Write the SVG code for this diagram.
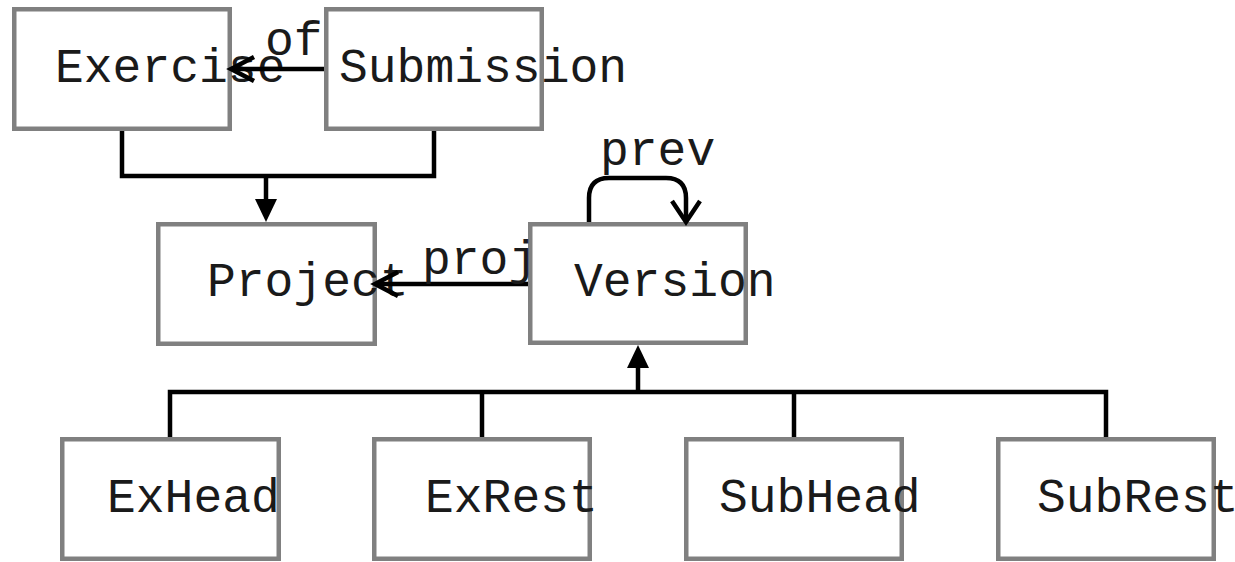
<svg xmlns="http://www.w3.org/2000/svg" width="1235" height="562" viewBox="0 0 1235 562">
  <style>
    .box { fill: #ffffff; stroke: #808080; stroke-width: 4.5; }
    .lbl { font-family: "Liberation Mono", "Courier New", monospace; font-size: 48px; fill: #1a1a1a; }
    .edge { fill: none; stroke: #000000; stroke-width: 4.5; }
    .open { fill: none; stroke: #000000; stroke-width: 4.5; stroke-linejoin: miter; }
    .solid { fill: #000000; stroke: none; }
  </style>
  <rect width="1235" height="562" fill="#ffffff"/>

  <g id="node-exercise">
    <rect class="box" x="14.25" y="9.25" width="215.5" height="119.5"/>
    <text class="lbl" x="55" y="82">Exercise</text>
  </g>
  <g id="node-submission">
    <rect class="box" x="326.25" y="9.25" width="215.5" height="119.5"/>
    <text class="lbl" x="339" y="82">Submission</text>
  </g>
  <g id="node-project">
    <rect class="box" x="158.25" y="224.25" width="216.5" height="119.5"/>
    <text class="lbl" x="207" y="296">Project</text>
  </g>
  <g id="node-version">
    <rect class="box" x="530.25" y="224.25" width="215.5" height="118.5"/>
    <text class="lbl" x="574" y="296">Version</text>
  </g>
  <g id="node-exhead">
    <rect class="box" x="62.25" y="439.25" width="216.5" height="119.5"/>
    <text class="lbl" x="107" y="512">ExHead</text>
  </g>
  <g id="node-exrest">
    <rect class="box" x="374.25" y="439.25" width="215.5" height="119.5"/>
    <text class="lbl" x="425" y="512">ExRest</text>
  </g>
  <g id="node-subhead">
    <rect class="box" x="686.25" y="439.25" width="215.5" height="119.5"/>
    <text class="lbl" x="719" y="512">SubHead</text>
  </g>
  <g id="node-subrest">
    <rect class="box" x="998.25" y="439.25" width="215.5" height="119.5"/>
    <text class="lbl" x="1037" y="512">SubRest</text>
  </g>

  <g id="connectors">
    <!-- Exercise / Submission generalise to Project -->
    <path class="edge" d="M122,131 V176 H434 V131"/>
    <path class="edge" d="M266,176 V201"/>
    <polygon class="solid" points="266,222 255,199 277,199"/>

    <!-- of: Submission -> Exercise -->
    <path class="edge" d="M324,69 H232"/>
    <polyline class="open" points="254,57 231,69 254,81"/>
    <text class="lbl" x="265" y="55">of</text>

    <!-- proj: Version -> Project -->
    <path class="edge" d="M528,284 H377"/>
    <polyline class="open" points="398,272 375,284 398,296"/>
    <text class="lbl" x="422" y="274">proj</text>

    <!-- prev: Version self loop -->
    <path class="edge" d="M589,222 V198 Q589,178 609,178 H666 Q686,178 686,198 V219"/>
    <polyline class="open" points="672,201 686,222 700,201"/>
    <text class="lbl" x="600" y="165">prev</text>

    <!-- ExHead / ExRest / SubHead / SubRest generalise to Version -->
    <path class="edge" d="M170,437 V392 H1106 V437"/>
    <path class="edge" d="M482,392 V437"/>
    <path class="edge" d="M794,392 V437"/>
    <path class="edge" d="M638,392 V366"/>
    <polygon class="solid" points="638,345 627,368 649,368"/>
  </g>
</svg>
